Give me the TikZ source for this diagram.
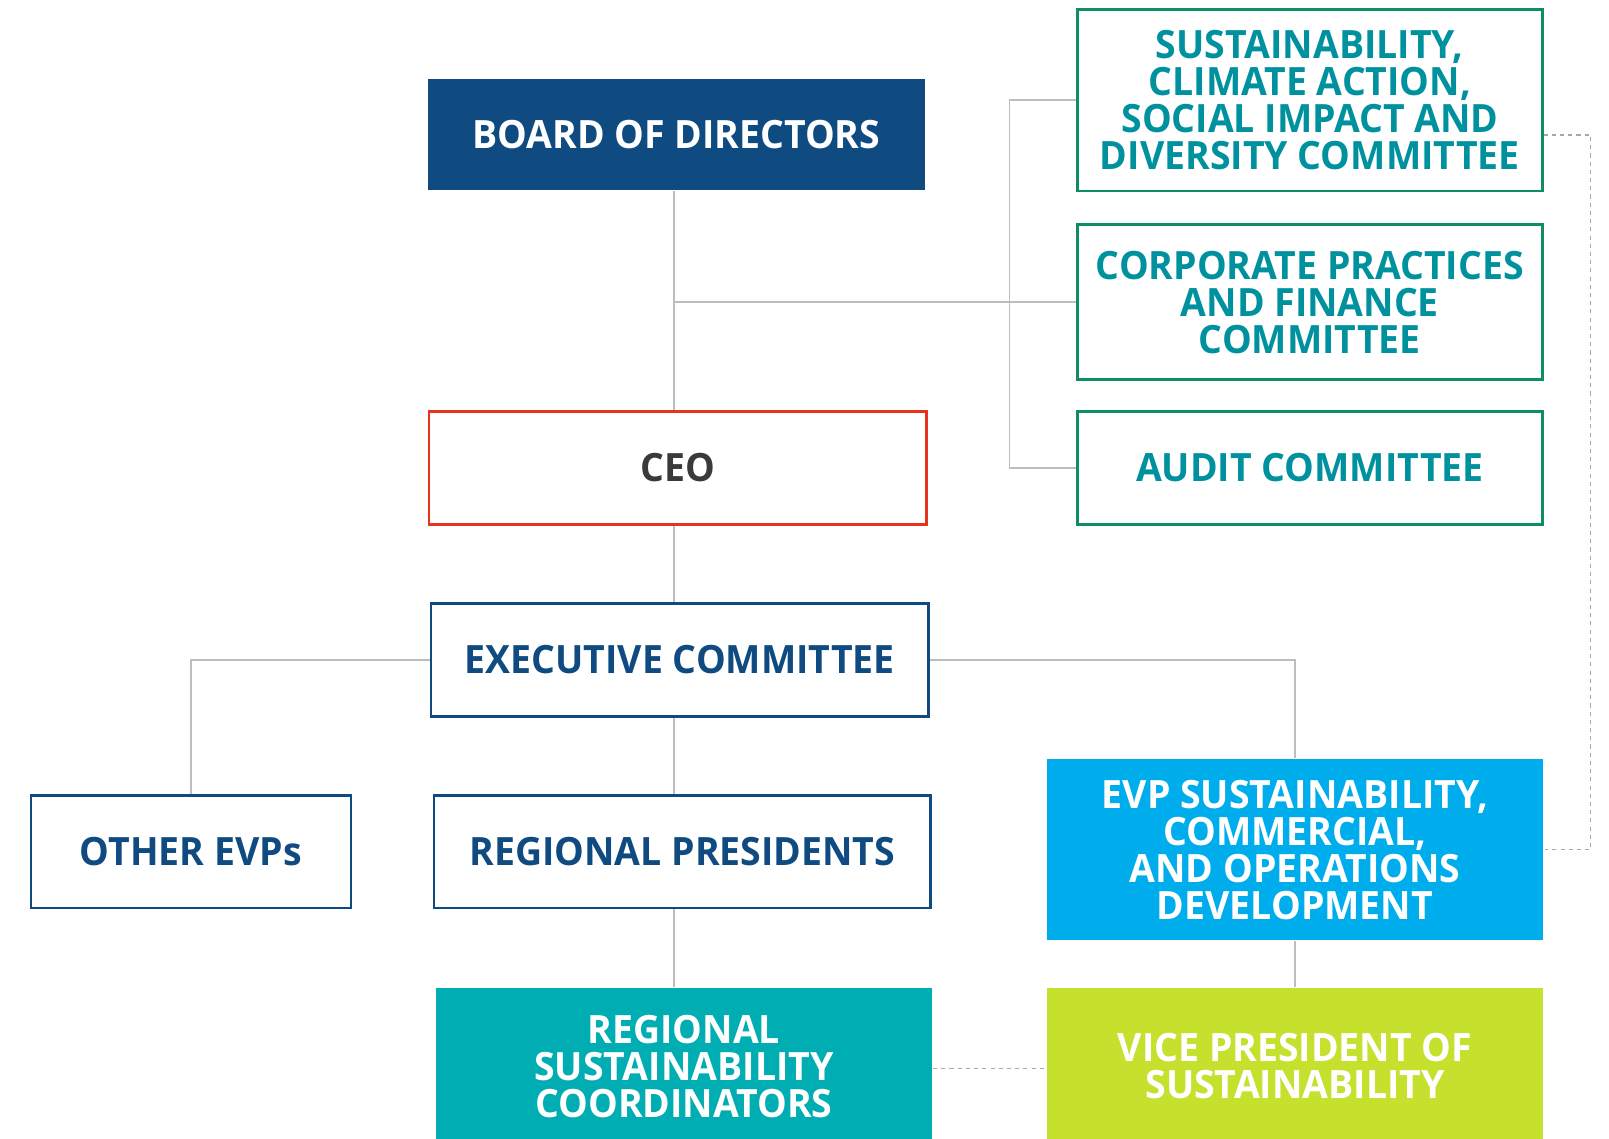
\documentclass[tikz,border=0pt]{standalone}
\usepackage{fontspec}
\setmainfont{Open Sans}[FakeStretch=0.96]
\definecolor{navy}{HTML}{0F4A80}
\definecolor{tealtxt}{HTML}{00919F}
\definecolor{greenbd}{HTML}{0E8F62}
\definecolor{ceored}{HTML}{E8331C}
\definecolor{ceotxt}{HTML}{3A3A3A}
\definecolor{evpblue}{HTML}{00ADEC}
\definecolor{coordteal}{HTML}{00ADB2}
\definecolor{lime}{HTML}{C6E02E}
\definecolor{linegray}{HTML}{BDBDBD}
\definecolor{dashgray}{HTML}{A8A8A8}
\tikzset{
  box/.style={rectangle, inner sep=0pt, align=center, font=\fontsize{38}{36}\selectfont\bfseries, line width=2.5pt},
  navyfill/.style={box, fill=navy, text=white},
  committee/.style={box, draw=greenbd, text=tealtxt},
  outlined/.style={box, draw=navy, text=navy},
  ceobox/.style={box, draw=ceored, text=ceotxt},
  solidfill/.style={box, text=white},
  conn/.style={draw=linegray, line width=1.6pt},
  dconn/.style={draw=dashgray, line width=1.3pt, dash pattern=on 4pt off 4pt},
}
\begin{document}
\begin{tikzpicture}[x=1pt,y=-1pt]
\useasboundingbox (0,0) rectangle (1568,1109);
\coordinate (spine) at (657,0);
\node[navyfill, minimum width=484, minimum height=108] (board) at (659,131) {BOARD OF DIRECTORS};
\node[committee, minimum width=453, minimum height=177] (sust) at (1276.5,97.5) {SUSTAINABILITY,\\CLIMATE ACTION,\\SOCIAL IMPACT AND\\DIVERSITY COMMITTEE};
\node[committee, minimum width=453, minimum height=151] (corp) at (1276.5,294.5) {CORPORATE PRACTICES\\AND FINANCE\\COMMITTEE};
\node[committee, minimum width=453, minimum height=110] (audit) at (1276.5,456) {AUDIT COMMITTEE};
\node[ceobox, minimum width=485, minimum height=110] (ceo) at (660.5,456) {CEO};
\node[outlined, minimum width=485, minimum height=110] (exec) at (662.5,643) {EXECUTIVE COMMITTEE};
\node[outlined, minimum width=312, minimum height=110] (other) at (186,830) {OTHER EVPs};
\node[outlined, minimum width=484, minimum height=110] (regp) at (665,830) {REGIONAL PRESIDENTS};
\node[solidfill, fill=evpblue, minimum width=484, minimum height=176] (evp) at (1262,828) {EVP SUSTAINABILITY,\\COMMERCIAL,\\AND OPERATIONS\\DEVELOPMENT};
\node[solidfill, fill=coordteal, minimum width=483, minimum height=152] (coord) at (666.5,1039) {REGIONAL\\SUSTAINABILITY\\COORDINATORS};
\node[solidfill, fill=lime, minimum width=484, minimum height=152] (vp) at (1262,1039) {VICE PRESIDENT OF\\SUSTAINABILITY};
% connectors
\draw[conn] (spine |- board.south) -- (spine |- ceo.north);
\draw[conn] (spine |- corp.west) -- (corp.west);
\draw[conn] (sust.west) -- ++(-65,0) |- (audit.west);
\draw[conn] (spine |- ceo.south) -- (spine |- exec.north);
\draw[conn] (exec.west) -| (other.north);
\draw[conn] (exec.east) -| (evp.north);
\draw[conn] (spine |- exec.south) -- (spine |- regp.north);
\draw[conn] (spine |- regp.south) -- (spine |- coord.north);
\draw[conn] (evp.south) -- (vp.north);
\draw[dconn] ([yshift=-2]coord.east) -- ([yshift=-2]coord.east -| vp.west);
\draw[dconn] ([yshift=-34]sust.east) -- ++(46,0) |- (evp.east);
\end{tikzpicture}
\end{document}
